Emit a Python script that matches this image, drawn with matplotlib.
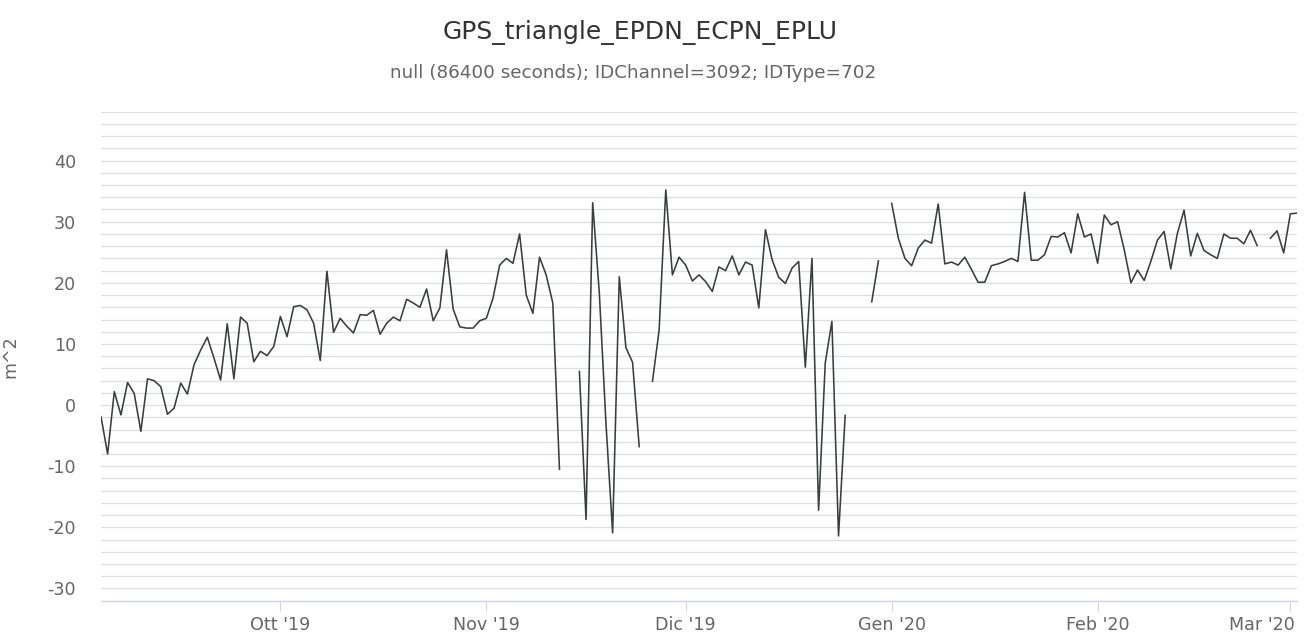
import numpy as np
import pandas as pd
import matplotlib
matplotlib.use('Agg')
import matplotlib.pyplot as plt
from matplotlib.transforms import ScaledTranslation

nan = np.nan

# daily values, one list per month (first day: 4 Sep 2019)
sep_vals = [-1.9, -8.0, 2.2, -1.6, 3.7, 1.9, -4.3, 4.3, 4.0, 3.0, -1.5, -0.5, 3.6, 1.8,
            6.6, 9.0, 11.1, 7.7, 4.1, 13.3, 4.3, 14.4, 13.4, 7.1, 8.8, 8.1, 9.6]
oct_vals = [14.5, 11.2, 16.1, 16.3, 15.6, 13.4, 7.3, 21.9, 11.9, 14.2, 12.9, 11.8, 14.8,
            14.7, 15.5, 11.6, 13.4, 14.4, 13.8, 17.3, 16.7, 16.0, 19.0, 13.8, 15.9, 25.4,
            15.7, 12.8, 12.6, 12.6, 13.8]
nov_vals = [14.2, 17.5, 22.9, 24.0, 23.2, 28.0, 18.0, 15.0, 24.2, 21.3, 16.7, -10.5, nan,
            nan, 5.5, -18.7, 33.1, 18.3, -3.0, -20.9, 21.0, 9.4, 7.0, -6.8, nan, 3.9, 12.3,
            35.2, 21.3, 24.2]
dec_vals = [22.9, 20.3, 21.3, 20.2, 18.6, 22.6, 22.0, 24.4, 21.3, 23.4, 22.9, 15.9, 28.7,
            23.8, 20.9, 19.9, 22.4, 23.5, 6.2, 24.0, -17.2, 6.9, 13.7, -21.4, -1.7, nan, nan,
            nan, 16.9, 23.6, nan]
jan_vals = [33.0, 27.3, 24.0, 22.8, 25.7, 27.0, 26.5, 32.9, 23.1, 23.4, 22.9, 24.2, 22.2,
            20.1, 20.1, 22.8, 23.1, 23.5, 24.0, 23.5, 34.8, 23.7, 23.7, 24.6, 27.6, 27.5,
            28.2, 24.9, 31.3, 27.5, 28.0]
feb_vals = [23.2, 31.1, 29.5, 30.0, 25.4, 20.0, 22.1, 20.4, 23.5, 27.0, 28.4, 22.3, 28.1,
            31.9, 24.4, 28.1, 25.3, 24.6, 24.0, 28.0, 27.3, 27.3, 26.4, 28.6, 26.1, nan, 27.3,
            28.5, 24.9]
mar_vals = [31.3, 31.4]

values = sep_vals + oct_vals + nov_vals + dec_vals + jan_vals + feb_vals + mar_vals
dates = pd.date_range('2019-09-04', periods=len(values), freq='D')

tick_dates = pd.to_datetime(['2019-10-01', '2019-11-01', '2019-12-01',
                             '2020-01-01', '2020-02-01', '2020-03-01'])
tick_labels = ["Ott '19", "Nov '19", "Dic '19", "Gen '20", "Feb '20", "Mar '20"]

title = 'GPS_triangle_EPDN_ECPN_EPLU'
subtitle = 'null (86400 seconds); IDChannel=3092; IDType=702'

plt.rcParams['font.family'] = ['DejaVu Sans']
plt.rcParams['axes.unicode_minus'] = False

fig = plt.figure(figsize=(13.07, 6.35), dpi=100)
ax = fig.add_axes([101 / 1307, 34.3 / 635, 1196 / 1307, 489 / 635])

ax.plot(dates, values, color='#36403f', lw=1.15)

ax.set_xlim(dates[0], dates[-1])
ax.set_ylim(-32, 48)

ax.set_yticks(np.arange(-32, 49, 2))
ax.set_yticklabels([str(v) if v % 10 == 0 else '' for v in range(-32, 49, 2)])
ax.grid(axis='y', color='#dedede', lw=0.9)
ax.set_axisbelow(True)

ax.set_xticks(tick_dates)
ax.set_xticklabels(tick_labels)

for s in ['top', 'right', 'left']:
    ax.spines[s].set_visible(False)
ax.spines['bottom'].set_color('#ccd6eb')
ax.spines['bottom'].set_linewidth(1.0)

ax.tick_params(axis='y', length=0, pad=18, labelsize=12.6, labelcolor='#666666')
ax.tick_params(axis='x', length=7, width=0.8, color='#ccd6eb', pad=4,
               labelsize=12.6, labelcolor='#666666')

# last label is pushed left so it stays inside the chart
last = ax.get_xticklabels()[-1]
last.set_horizontalalignment('right')
last.set_transform(last.get_transform() + ScaledTranslation(5 / 100, 0, fig.dpi_scale_trans))

ax.set_ylabel('m^2', fontsize=12.6, color='#666666')
ax.yaxis.set_label_coords(-0.0686, 0.5)

fig.text(640 / 1307, 1 - 39 / 635, title, ha='center', va='baseline',
         fontsize=18, color='#333333')
fig.text(633 / 1307, 1 - 78 / 635, subtitle, ha='center', va='baseline',
         fontsize=13.2, color='#666666')

fig.savefig('out.png', dpi=100, facecolor='white')
